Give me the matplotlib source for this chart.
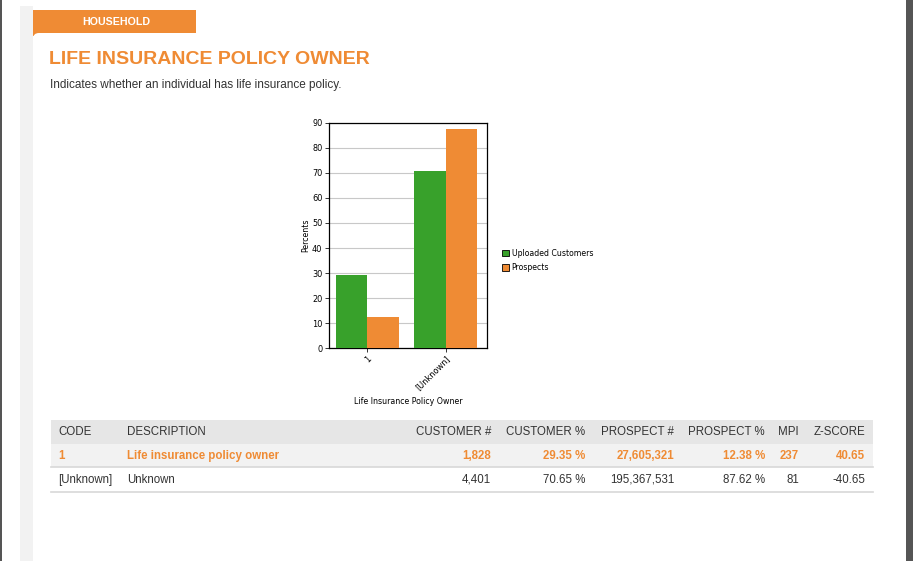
import matplotlib
matplotlib.use("Agg")
import matplotlib.pyplot as plt
from matplotlib.patches import Rectangle, FancyBboxPatch

# data
categories = ["1", "[Unknown]"]
codes = ["1", "[Unknown]"]
descriptions = ["Life insurance policy owner", "Unknown"]
customer_n = ["1,828", "4,401"]
customer_pct = [29.35, 70.65]
prospect_n = ["27,605,321", "195,367,531"]
prospect_pct = [12.38, 87.62]
mpi = ["237", "81"]
zscore = ["40.65", "-40.65"]
headers = ["CODE", "DESCRIPTION", "CUSTOMER #", "CUSTOMER %", "PROSPECT #",
           "PROSPECT %", "MPI", "Z-SCORE"]

ORANGE = "#ef8b34"
GREEN = "#38a12b"
DARK = "#333333"
SANS = "Liberation Sans"

W, H = 913, 561
fig = plt.figure(figsize=(W / 100, H / 100), dpi=100)
fig.patch.set_facecolor("white")

# page layer in pixel coords
page = fig.add_axes([0, 0, 1, 1])
page.set_xlim(0, W)
page.set_ylim(H, 0)
page.axis("off")

page.add_patch(Rectangle((0, 0), 2, H, color="#555555", lw=0))
page.add_patch(Rectangle((906, 0), 7, H, color="#555555", lw=0))
page.add_patch(Rectangle((20, 6), 13, H, color="#f2f2f2", lw=0))
page.add_patch(Rectangle((33, 10), 163, 26, color=ORANGE, lw=0))
page.add_patch(FancyBboxPatch((33, 33), 873, 560, boxstyle="round,pad=0,rounding_size=6",
                              fc="white", ec="none"))
page.text(116, 21.5, "HOUSEHOLD", color="white", fontsize=7.7, fontweight="bold",
          family=SANS, ha="center", va="center")
page.text(49, 59, "LIFE INSURANCE POLICY OWNER", color=ORANGE, fontsize=14,
          fontweight="bold", family=SANS, ha="left", va="center")
page.text(50, 85, "Indicates whether an individual has life insurance policy.",
          color=DARK, fontsize=8.5, family=SANS, ha="left", va="center")

# table
tl, tr = 51, 873
page.add_patch(Rectangle((tl, 420), tr - tl, 23.5, color="#e6e6e6", lw=0))
page.add_patch(Rectangle((tl, 443.5), tr - tl, 23.5, color="#f2f2f2", lw=0))
page.plot([tl, tr], [467.3, 467.3], color="#d8d8d8", lw=1.2)
page.plot([tl, tr], [491.5, 491.5], color="#d8d8d8", lw=1.2)

col_x = [58, 127, 491, 585, 674, 765, 799, 865]
col_ha = ["left", "left", "right", "right", "right", "right", "right", "right"]
for x, ha, h in zip(col_x, col_ha, headers):
    page.text(x, 431.5, h, color=DARK, fontsize=8.3, family=SANS, ha=ha, va="center")

row_y = [455.5, 479.5]
for i in range(len(codes)):
    cells = [codes[i], descriptions[i], customer_n[i], f"{customer_pct[i]:.2f} %",
             prospect_n[i], f"{prospect_pct[i]:.2f} %", mpi[i], zscore[i]]
    bold = i == 0
    for x, ha, c in zip(col_x, col_ha, cells):
        page.text(x, row_y[i], c, color=ORANGE if bold else DARK, fontsize=8.3,
                  fontweight="bold" if bold else "normal", family=SANS,
                  ha=ha, va="center")

# chart
ax = fig.add_axes([329.3 / W, 1 - 348.3 / H, 157.4 / W, 225.6 / H])
xs = list(range(len(categories)))
bw = 0.4
ax.bar([x - bw / 2 for x in xs], customer_pct, bw, color=GREEN, label="Uploaded Customers", zorder=3)
ax.bar([x + bw / 2 for x in xs], prospect_pct, bw, color=ORANGE, label="Prospects", zorder=3)
ax.set_xlim(-0.48, 1.52)
ax.set_ylim(0, 90)
ax.set_yticks(range(0, 91, 10))
ax.yaxis.grid(True, color="#c8c8c8", lw=0.8, zorder=0)
ax.set_xticks(xs)
ax.set_xticklabels(categories, rotation=45, ha="right", rotation_mode="anchor")
for s in ax.spines.values():
    s.set_color("black")
    s.set_linewidth(0.9)
ax.tick_params(axis="both", labelsize=5.9, length=3, width=0.7, color="#333333", pad=2)
ax.tick_params(axis="x", pad=1)
ax.set_ylabel("Percents", fontsize=5.7, labelpad=1.5)
ax.set_xlabel("Life Insurance Policy Owner", fontsize=5.7, labelpad=4)
ax.legend(loc="center left", bbox_to_anchor=(1.08, 0.39), frameon=False, fontsize=5.6,
          handlelength=0.9, handleheight=0.9, handletextpad=0.3, labelspacing=0.7,
          borderaxespad=0)
for p in ax.get_legend().get_patches():
    p.set_edgecolor("black")
    p.set_linewidth(0.6)

fig.savefig("out.png", dpi=100)
